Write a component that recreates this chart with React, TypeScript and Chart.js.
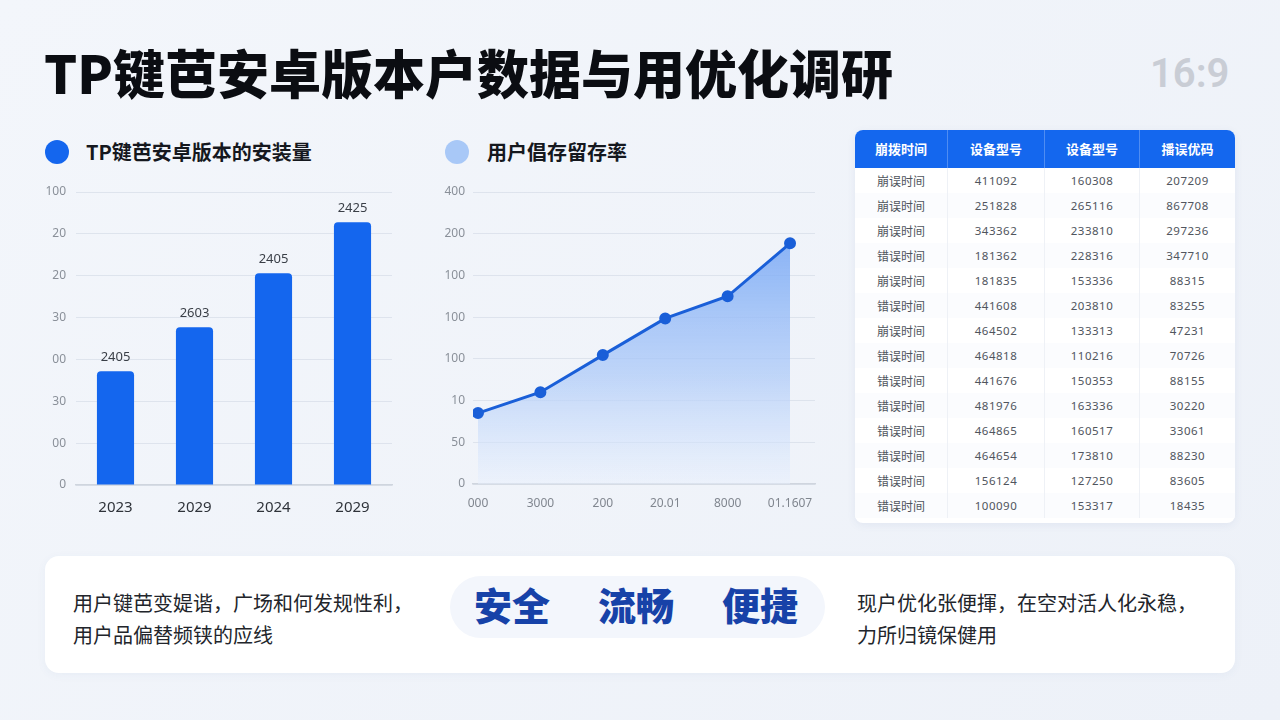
import React, { useEffect, useRef } from "react";
import { Chart, registerables } from "chart.js";
Chart.register(...registerables);

const pageTitle = "TP键芭安卓版本户数据与用优化调研";
const ratioText = "16:9";

const installTitle = "TP键芭安卓版本的安装量";
const installYears = ["2023", "2029", "2024", "2029"];
const installValues = [272, 377, 506, 628];
const installLabels = ["2405", "2603", "2405", "2425"];
const installTicks = ["0", "00", "30", "00", "30", "20", "20", "100"];

const retentionTitle = "用户倡存留存率";
const retentionLabels = ["000", "3000", "200", "20.01", "8000", "01.1607"];
const retentionValues = [170, 220, 309, 397, 450, 577];
const retentionTicks = ["0", "50", "10", "100", "100", "100", "200", "400"];

const tableHeaders = ["崩拨时间", "设备型号", "设备型号", "播误优码"];
const tableCol1 = ["崩误时间", "崩误时间", "崩误时间", "错误时间", "崩误时间", "错误时间", "崩误时间", "错误时间", "错误时间", "错误时间", "错误时间", "错误时间", "错误时间", "错误时间"];
const tableCol2 = ["411092", "251828", "343362", "181362", "181835", "441608", "464502", "464818", "441676", "481976", "464865", "464654", "156124", "100090"];
const tableCol3 = ["160308", "265116", "233810", "228316", "153336", "203810", "133313", "110216", "150353", "163336", "160517", "173810", "127250", "153317"];
const tableCol4 = ["207209", "867708", "297236", "347710", "88315", "83255", "47231", "70726", "88155", "30220", "33061", "88230", "83605", "18435"];

const leftNote = ["用户键芭变媞谐，广场和何发规性利，", "用户品偏替频铗的应线"];
const keywords = ["安全", "流畅", "便捷"];
const rightNote = ["现户优化张便揮，在空对活人化永稳，", "力所归镜保健用"];

const FONT = '"Noto Sans CJK SC", "Noto Sans", sans-serif';
const NUMFONT = '"Noto Sans", "DejaVu Sans", sans-serif';

function InstallChart() {
  const ref = useRef<HTMLCanvasElement | null>(null);
  useEffect(() => {
    if (!ref.current) return;
    const labelPlugin = {
      id: "barLabels",
      afterDatasetsDraw(chart: any) {
        const ctx = chart.ctx;
        const meta = chart.getDatasetMeta(0);
        ctx.save();
        ctx.font = `13px ${NUMFONT}`;
        ctx.fillStyle = "#3a3f47";
        ctx.textAlign = "center";
        ctx.textBaseline = "middle";
        meta.data.forEach((el: any, i: number) => {
          ctx.fillText(installLabels[i], el.x, el.y - 14);
        });
        ctx.restore();
      },
    };
    const chart = new Chart(ref.current, {
      type: "bar",
      data: {
        labels: installYears,
        datasets: [
          {
            data: installValues,
            backgroundColor: "#1466ee",
            borderRadius: { topLeft: 4, topRight: 4, bottomLeft: 0, bottomRight: 0 },
            borderSkipped: "bottom",
            barPercentage: 0.47,
            categoryPercentage: 1,
          },
        ],
      },
      options: {
        animation: false,
        responsive: false,
        maintainAspectRatio: false,
        layout: { padding: { top: 22, right: 18, left: 0, bottom: 0 } },
        plugins: { legend: { display: false }, tooltip: { enabled: false } },
        scales: {
          x: {
            grid: { display: false },
            border: { display: true, color: "#cfd5de", width: 1.5 },
            ticks: { color: "#2f333a", font: { size: 15, family: NUMFONT }, padding: 6 },
            afterFit: (a: any) => { a.height = 35; },
          },
          y: {
            min: 0,
            max: 700,
            ticks: {
              stepSize: 100,
              color: "#8a9099",
              font: { size: 12, family: NUMFONT },
              padding: 10,
              callback: (v: any) => installTicks[Math.round(Number(v) / 100)],
            },
            grid: { color: "rgba(205,213,226,0.55)", drawTicks: false },
            border: { display: false },
            afterFit: (a: any) => { a.width = 56; },
          },
        },
      },
      plugins: [labelPlugin],
    });
    return () => chart.destroy();
  }, []);
  return <canvas ref={ref} width={390} height={350} style={{ position: "absolute", left: 20, top: 170, width: 390, height: 350 }} />;
}

function RetentionChart() {
  const ref = useRef<HTMLCanvasElement | null>(null);
  useEffect(() => {
    if (!ref.current) return;
    const points = retentionValues.map((v, i) => ({ x: i, y: v }));
    const chart = new Chart(ref.current, {
      type: "line",
      data: {
        datasets: [
          {
            data: points,
            borderColor: "#1a5fd8",
            borderWidth: 3,
            pointRadius: 4.5,
            pointBackgroundColor: "#1a5fd8",
            pointBorderColor: "#1a5fd8",
            tension: 0,
            fill: "origin",
            backgroundColor: (c: any) => {
              const chart = c.chart;
              const area = chart.chartArea;
              if (!area) return "rgba(140,180,245,0.5)";
              const top = chart.scales.y.getPixelForValue(Math.max(...retentionValues));
              const g = chart.ctx.createLinearGradient(0, top, 0, area.bottom);
              g.addColorStop(0, "rgba(120,168,245,0.85)");
              g.addColorStop(0.55, "rgba(170,200,248,0.7)");
              g.addColorStop(1, "rgba(232,240,253,0.5)");
              return g;
            },
          },
        ],
      },
      options: {
        animation: false,
        responsive: false,
        maintainAspectRatio: false,
        layout: { padding: { top: 22, right: 15, left: 0, bottom: 0 } },
        plugins: { legend: { display: false }, tooltip: { enabled: false } },
        scales: {
          x: {
            type: "linear",
            min: -0.08,
            max: 5.4,
            grid: { display: false },
            border: { display: true, color: "#cfd5de", width: 1.5 },
            afterBuildTicks: (a: any) => {
              a.ticks = retentionLabels.map((_, i) => ({ value: i }));
            },
            ticks: {
              color: "#80868f",
              font: { size: 12, family: NUMFONT },
              padding: 4,
              callback: (v: any) => retentionLabels[Math.round(Number(v))],
            },
            afterFit: (a: any) => { a.height = 36; },
          },
          y: {
            min: 0,
            max: 700,
            ticks: {
              stepSize: 100,
              color: "#8a9099",
              font: { size: 12, family: NUMFONT },
              padding: 8,
              callback: (v: any) => retentionTicks[Math.round(Number(v) / 100)],
            },
            grid: { color: "rgba(205,213,226,0.55)", drawTicks: false },
            border: { display: false },
            afterFit: (a: any) => { a.width = 53; },
          },
        },
      },
    });
    return () => chart.destroy();
  }, []);
  return <canvas ref={ref} width={410} height={350} style={{ position: "absolute", left: 420, top: 170, width: 410, height: 350 }} />;
}

function DataTable() {
  const widths = [93, 97, 95, 95];
  const rows = tableCol1.map((c, i) => [c, tableCol2[i], tableCol3[i], tableCol4[i]]);
  return (
    <div style={{ position: "absolute", left: 855, top: 130, width: 380, height: 393, background: "#ffffff", borderRadius: 8, overflow: "hidden", boxShadow: "0 2px 8px rgba(60,90,150,0.08)" }}>
      <div style={{ display: "flex", height: 38, background: "#1467ee" }}>
        {tableHeaders.map((h, i) => (
          <div key={i} style={{ width: widths[i], lineHeight: "38px", textAlign: "center", color: "#fff", fontWeight: 700, fontSize: 13, borderRight: i < 3 ? "1px solid rgba(255,255,255,0.25)" : "none", boxSizing: "border-box" }}>{h}</div>
        ))}
      </div>
      {rows.map((r, ri) => (
        <div key={ri} style={{ display: "flex", height: 25, background: ri % 2 === 0 ? "#ffffff" : "#fbfcfe" }}>
          {r.map((c, ci) => (
            <div key={ci} style={{ width: widths[ci], lineHeight: "25px", textAlign: "center", color: "#50555d", fontSize: ci === 0 ? 12 : 11.5, fontFamily: ci === 0 ? FONT : NUMFONT, borderRight: ci < 3 ? "1px solid #eef1f6" : "none", boxSizing: "border-box", letterSpacing: ci === 0 ? 0 : 0.5 }}>{c}</div>
          ))}
        </div>
      ))}
    </div>
  );
}

export default function App() {
  useEffect(() => {
    document.body.style.margin = "0";
  }, []);
  return (
    <div style={{ position: "fixed", left: 0, top: 0, width: 1280, height: 720, overflow: "hidden", background: "linear-gradient(135deg, #f3f6fb 0%, #edf1f8 100%)", fontFamily: FONT }}>
      <div style={{ position: "absolute", left: 44, top: 40, fontSize: 52, fontWeight: 900, color: "#0b0d12", lineHeight: "64px", whiteSpace: "nowrap" }}>{pageTitle}</div>
      <div style={{ position: "absolute", left: 1150, top: 50, fontSize: 40, fontWeight: 600, color: "#c9cdd5", fontFamily: '"Roboto", "Noto Sans", sans-serif', lineHeight: "48px" }}>{ratioText}</div>

      <div style={{ position: "absolute", left: 45, top: 140, width: 24, height: 24, borderRadius: 12, background: "#1466ee" }} />
      <div style={{ position: "absolute", left: 86, top: 137, fontSize: 20, fontWeight: 700, color: "#15181e", lineHeight: "30px" }}>{installTitle}</div>
      <div style={{ position: "absolute", left: 445, top: 140, width: 24, height: 24, borderRadius: 12, background: "#a8c8f7" }} />
      <div style={{ position: "absolute", left: 487, top: 137, fontSize: 20, fontWeight: 700, color: "#15181e", lineHeight: "30px" }}>{retentionTitle}</div>

      <InstallChart />
      <RetentionChart />
      <DataTable />

      <div style={{ position: "absolute", left: 45, top: 556, width: 1190, height: 117, background: "#ffffff", borderRadius: 14, boxShadow: "0 2px 10px rgba(60,90,150,0.05)" }} />
      <div style={{ position: "absolute", left: 73, top: 587, fontSize: 20, color: "#22252b", lineHeight: "32px", whiteSpace: "nowrap" }}>
        {leftNote.map((t, i) => <div key={i}>{t}</div>)}
      </div>
      <div style={{ position: "absolute", left: 450, top: 576, width: 375, height: 62, borderRadius: 31, background: "#f3f6fc" }} />
      {keywords.map((k, i) => (
        <div key={i} style={{ position: "absolute", left: 474 + i * 124, top: 580, fontSize: 38, fontWeight: 900, color: "#1742a8", lineHeight: "48px", whiteSpace: "nowrap" }}>{k}</div>
      ))}
      <div style={{ position: "absolute", left: 857, top: 587, fontSize: 20, color: "#22252b", lineHeight: "32px", whiteSpace: "nowrap" }}>
        {rightNote.map((t, i) => <div key={i}>{t}</div>)}
      </div>
    </div>
  );
}
